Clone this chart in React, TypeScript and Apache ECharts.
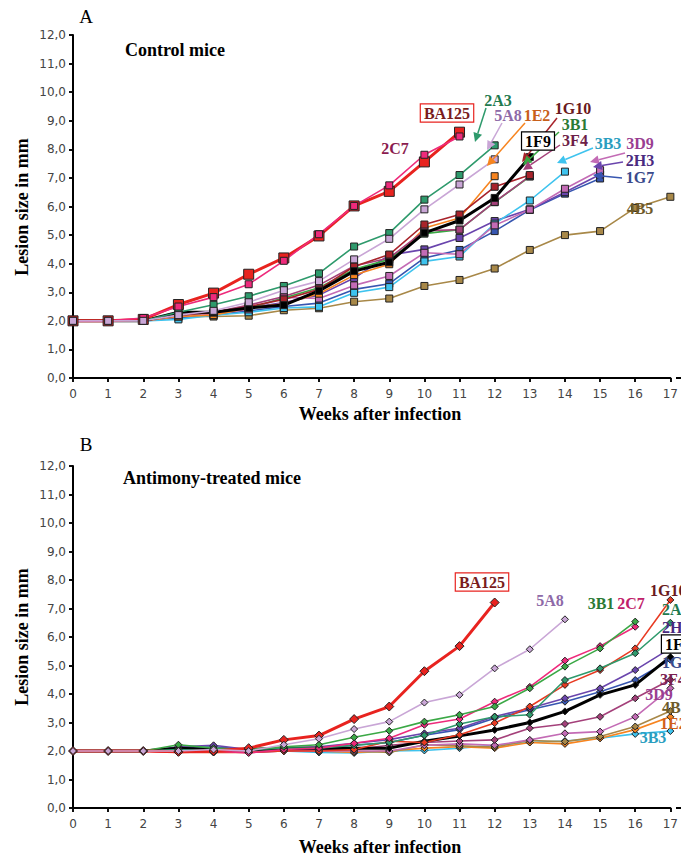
import { useEffect, useRef } from "react";
import * as echarts from "echarts";

// ---------- data ----------
const weekLabels = ["0","1","2","3","4","5","6","7","8","9","10","11","12","13","14","15","16","17"];
const yTickValues = [0, 1, 2, 3, 4, 5, 6, 7, 8, 9, 10, 11, 12];

// Panel A: control mice (lesion size in mm per week)
const controlBA125 = [2.0, 2.0, 2.05, 2.57, 2.97, 3.63, 4.2, 4.97, 6.02, 6.53, 7.56, 8.6];
const control2C7 = [2.0, 2.0, 2.1, 2.5, 2.83, 3.28, 4.1, 5.03, 6.02, 6.74, 7.81, 8.45];
const control2A3 = [2.0, 2.0, 2.0, 2.3, 2.56, 2.86, 3.22, 3.66, 4.6, 5.07, 6.24, 7.1, 8.14];
const control1E2 = [2.0, 2.0, 2.0, 2.15, 2.2, 2.45, 2.6, 2.95, 3.6, 3.98, 5.25, 5.6, 7.06];
const control1G10 = [2.0, 2.0, 2.0, 2.2, 2.3, 2.5, 2.75, 3.1, 3.9, 4.32, 5.37, 5.72, 6.69, 7.1];
const control3B1 = [2.0, 2.0, 2.0, 2.2, 2.3, 2.45, 2.8, 3.16, 3.8, 4.15, 5.05, 5.19, 6.15, 7.05];
const control3F4 = [2.0, 2.0, 2.0, 2.2, 2.3, 2.55, 2.85, 3.25, 3.92, 4.2, 5.15, 5.19, 6.16, 7.06];
const control1F9 = [2.0, 2.0, 2.0, 2.3, 2.3, 2.45, 2.55, 3.05, 3.74, 4.05, 5.08, 5.51, 6.3, 7.73];
const control3B3 = [2.0, 2.0, 2.0, 2.05, 2.2, 2.3, 2.45, 2.49, 2.98, 3.18, 4.08, 4.25, 5.4, 6.21, 7.22];
const control3D9 = [2.0, 2.0, 2.0, 2.15, 2.25, 2.4, 2.82, 2.78, 3.24, 3.57, 4.38, 4.33, 5.34, 5.89, 6.62, 7.27];
const control2H3 = [2.0, 2.0, 2.0, 2.2, 2.3, 2.45, 2.64, 2.9, 3.5, 4.3, 4.5, 4.9, 5.49, 5.9, 6.5, 7.12];
const control1G7 = [2.0, 2.0, 2.0, 2.1, 2.2, 2.35, 2.5, 2.62, 3.1, 3.3, 4.2, 4.48, 5.14, 5.88, 6.45, 6.98];
const control4B5 = [2.0, 2.0, 2.0, 2.15, 2.15, 2.18, 2.37, 2.44, 2.67, 2.78, 3.22, 3.43, 3.83, 4.48, 5.0, 5.14, 5.95, 6.34];
const control5A8 = [2.0, 2.0, 2.0, 2.2, 2.35, 2.65, 3.07, 3.39, 4.15, 4.87, 5.9, 6.77, 7.65];

// Panel B: antimony-treated mice
const treatedBA125 = [2.0, 2.0, 2.0, 1.97, 2.0, 2.1, 2.39, 2.54, 3.12, 3.56, 4.8, 5.68, 7.21];
const treated3B1 = [2.0, 2.0, 2.0, 2.22, 2.1, 2.05, 2.15, 2.22, 2.48, 2.71, 3.03, 3.27, 3.56, 4.2, 4.96, 5.6, 6.54];
const treated2C7 = [2.0, 2.0, 2.0, 1.95, 2.0, 1.93, 2.05, 2.1, 2.27, 2.45, 2.92, 3.12, 3.73, 4.25, 5.17, 5.68, 6.36];
const treated2A3 = [2.0, 2.0, 2.0, 2.05, 2.0, 2.05, 2.1, 2.1, 2.2, 2.3, 2.55, 2.95, 3.2, 3.27, 4.49, 4.9, 5.43, 6.5];
const treated1G10 = [2.0, 2.0, 2.0, 1.95, 1.95, 1.95, 2.0, 2.0, 2.05, 2.34, 2.3, 2.57, 2.98, 3.56, 4.32, 4.84, 5.6, 7.3];
const treated2H3 = [2.0, 2.0, 2.0, 2.15, 2.2, 2.05, 2.1, 2.15, 2.27, 2.4, 2.62, 2.8, 3.21, 3.5, 3.85, 4.2, 4.84, 5.6];
const treated1G7 = [2.0, 2.0, 2.0, 2.1, 2.15, 2.05, 2.05, 2.1, 2.2, 2.3, 2.55, 2.75, 3.15, 3.45, 3.73, 4.08, 4.49, 5.2];
const treated1F9 = [2.0, 2.0, 2.0, 2.1, 2.05, 2.05, 2.1, 2.1, 2.1, 2.1, 2.34, 2.53, 2.74, 3.0, 3.39, 3.97, 4.32, 5.3];
const treated3F4 = [2.0, 2.0, 2.0, 2.0, 2.0, 1.95, 2.0, 2.05, 2.05, 2.2, 2.3, 2.35, 2.39, 2.8, 2.95, 3.2, 3.85, 4.5];
const treated3D9 = [2.0, 2.0, 2.0, 2.0, 2.0, 1.95, 2.0, 2.0, 2.0, 2.0, 2.2, 2.25, 2.2, 2.39, 2.62, 2.68, 3.2, 4.2];
const treated4B5 = [2.0, 2.0, 2.0, 2.0, 1.95, 2.0, 2.1, 2.05, 2.0, 1.95, 2.22, 2.18, 2.14, 2.37, 2.33, 2.51, 2.86, 3.4];
const treated1E2 = [2.0, 2.0, 2.0, 2.0, 2.0, 2.0, 2.05, 2.0, 1.95, 2.0, 2.1, 2.15, 2.1, 2.3, 2.25, 2.45, 2.75, 3.2];
const treated3B3 = [2.0, 2.0, 2.0, 2.0, 2.0, 2.0, 2.0, 1.95, 1.93, 2.0, 2.02, 2.1, 2.2, 2.3, 2.35, 2.45, 2.6, 2.7];
const treated5A8 = [2.0, 2.0, 2.0, 2.0, 2.05, 2.0, 2.22, 2.43, 2.77, 3.03, 3.7, 3.97, 4.9, 5.57, 6.62];

// ---------- styles ----------
const SERIF = "'Liberation Serif', 'DejaVu Serif', serif";
const SANS = "'DejaVu Sans', Verdana, sans-serif";

const C = {
  BA125: "#e8231f",
  "2C7": "#ee2a7b",
  "2A3": "#2e9a6c",
  "5A8": "#c9a6d6",
  "1E2": "#f7841f",
  "1G10": "#a8232b",
  "1G10b": "#e83a22",
  "3B1": "#3aa845",
  "1F9": "#000000",
  "3F4": "#a4407a",
  "3B3": "#3ec3ee",
  "3D9": "#c36bb5",
  "2H3": "#6a45ad",
  "1G7": "#3756b0",
  "4B5": "#a88848",
};

type SDef = { name: string; data: number[]; color: string; thick?: boolean };

const controlSeries: SDef[] = [
  { name: "4B5", data: control4B5, color: C["4B5"] },
  { name: "1G7", data: control1G7, color: C["1G7"] },
  { name: "2H3", data: control2H3, color: C["2H3"] },
  { name: "3B3", data: control3B3, color: C["3B3"] },
  { name: "3D9", data: control3D9, color: C["3D9"] },
  { name: "1E2", data: control1E2, color: C["1E2"] },
  { name: "3B1", data: control3B1, color: C["3B1"] },
  { name: "3F4", data: control3F4, color: C["3F4"] },
  { name: "1G10", data: control1G10, color: C["1G10"] },
  { name: "1F9", data: control1F9, color: C["1F9"], thick: true },
  { name: "2A3", data: control2A3, color: C["2A3"] },
  { name: "BA125", data: controlBA125, color: C.BA125, thick: true },
  { name: "2C7", data: control2C7, color: C["2C7"] },
  { name: "5A8", data: control5A8, color: C["5A8"] },
];

const treatedSeries: SDef[] = [
  { name: "3B3", data: treated3B3, color: C["3B3"] },
  { name: "1E2", data: treated1E2, color: C["1E2"] },
  { name: "4B5", data: treated4B5, color: C["4B5"] },
  { name: "3D9", data: treated3D9, color: C["3D9"] },
  { name: "3F4", data: treated3F4, color: C["3F4"] },
  { name: "1G7", data: treated1G7, color: C["1G7"] },
  { name: "2H3", data: treated2H3, color: C["2H3"] },
  { name: "1F9", data: treated1F9, color: C["1F9"], thick: true },
  { name: "1G10", data: treated1G10, color: C["1G10b"] },
  { name: "2A3", data: treated2A3, color: C["2A3"] },
  { name: "2C7", data: treated2C7, color: C["2C7"] },
  { name: "3B1", data: treated3B1, color: C["3B1"] },
  { name: "BA125", data: treatedBA125, color: C.BA125, thick: true },
  { name: "5A8", data: treated5A8, color: C["5A8"] },
];

// annotation labels (pixel positions)
type Lab = { text: string; x: number; y: number; color: string; align?: string; box?: string };
const controlLabels: Lab[] = [
  { text: "BA125", x: 447, y: 113, color: "#7a1c1c", box: C.BA125 },
  { text: "2C7", x: 395, y: 148, color: "#8b1c4f" },
  { text: "2A3", x: 498, y: 100, color: "#1f7a4f" },
  { text: "5A8", x: 508, y: 115, color: "#8e6aa8" },
  { text: "1E2", x: 537, y: 115, color: "#c8601a" },
  { text: "1G10", x: 573, y: 108, color: "#6a1a20" },
  { text: "3B1", x: 575, y: 124, color: "#2a7a35" },
  { text: "1F9", x: 538, y: 141, color: "#000000", box: "#000000" },
  { text: "3F4", x: 575, y: 140, color: "#6e1e48" },
  { text: "3B3", x: 608, y: 143, color: "#2a9ec0" },
  { text: "3D9", x: 640, y: 143, color: "#9a3f92" },
  { text: "2H3", x: 640, y: 160, color: "#4a2a80" },
  { text: "1G7", x: 640, y: 177, color: "#3a4b8c" },
  { text: "4B5", x: 640, y: 208, color: "#6e5a2a" },
];
type Arr = { from: number[]; to: number[]; color: string };
const controlArrows: Arr[] = [
  { from: [486, 108], to: [475, 142], color: C["2A3"] },
  { from: [502, 123], to: [487, 150], color: C["5A8"] },
  { from: [525, 123], to: [487, 166], color: C["1E2"] },
  { from: [557, 118], to: [522, 162], color: C["1G10"] },
  { from: [559, 132], to: [523, 165], color: C["3B1"] },
  { from: [560, 145], to: [523, 170], color: C["3F4"] },
  { from: [593, 148], to: [557, 163], color: C["3B3"] },
  { from: [625, 153], to: [590, 162], color: C["3D9"] },
  { from: [623, 162], to: [593, 167], color: C["2H3"] },
  { from: [622, 178], to: [593, 175], color: C["1G7"] },
];
const treatedLabels: Lab[] = [
  { text: "BA125", x: 482, y: 582, color: "#7a1c1c", box: C.BA125 },
  { text: "5A8", x: 550, y: 600, color: "#8e6aa8" },
  { text: "3B1", x: 601, y: 603, color: "#2a7a35" },
  { text: "2C7", x: 631, y: 603, color: "#c0206a" },
  { text: "1G10", x: 650, y: 590, color: "#6a1a20", align: "left" },
  { text: "2A3", x: 662, y: 609, color: "#1f7a4f", align: "left" },
  { text: "2H3", x: 662, y: 627, color: "#4a2a80", align: "left" },
  { text: "1F9", x: 662, y: 644, color: "#000000", align: "left", box: "#000000" },
  { text: "1G7", x: 662, y: 662, color: "#3a4b8c", align: "left" },
  { text: "3F4", x: 660, y: 679, color: "#7a2050", align: "left" },
  { text: "3D9", x: 659, y: 694, color: "#9a3f92" },
  { text: "4B5", x: 662, y: 707, color: "#6e5a2a", align: "left" },
  { text: "1E2", x: 660, y: 723, color: "#d0601a", align: "left" },
  { text: "3B3", x: 653, y: 737, color: "#2a9ec0" },
];

const tickFmt = (v: number) => v.toFixed(1).replace(".", ",");

function arrowEls(a: Arr) {
  const [x1, y1] = a.from;
  const [x2, y2] = a.to;
  const ang = Math.atan2(y2 - y1, x2 - x1);
  const L = 9, W = 4.5;
  const bx = x2 - L * Math.cos(ang);
  const by = y2 - L * Math.sin(ang);
  const px = Math.sin(ang) * W, py = -Math.cos(ang) * W;
  return [
    { type: "line", shape: { x1, y1, x2: bx, y2: by }, style: { stroke: a.color, lineWidth: 1.5 }, z: 100 },
    { type: "polygon", shape: { points: [[x2, y2], [bx + px, by + py], [bx - px, by - py]] }, style: { fill: a.color }, z: 100 },
  ];
}

function labelEl(l: Lab) {
  const style: any = {
    text: l.text,
    fill: l.color,
    fontFamily: SERIF,
    fontWeight: "bold",
    fontSize: 16,
    align: l.align || "center",
    verticalAlign: "middle",
  };
  if (l.box) {
    style.borderColor = l.box;
    style.borderWidth = 1.2;
    style.backgroundColor = "#ffffff";
    style.padding = [1, 3, 0, 3];
  }
  return { type: "text", x: l.x, y: l.y, style, z: 110 };
}

function titleText(text: string, x: number, y: number, size: number, bold: boolean, rotation = 0) {
  return {
    type: "text",
    x,
    y,
    rotation,
    style: {
      text,
      fill: "#000",
      fontFamily: SERIF,
      fontWeight: bold ? "bold" : "normal",
      fontSize: size,
      align: "center",
      verticalAlign: "middle",
    },
  };
}

function axesFor(gridIndex: number) {
  const axisLine = { show: true, lineStyle: { color: "#000", width: 2 } };
  const xMain = {
    type: "value", gridIndex, min: 0, max: 17, interval: 1,
    axisLine, axisTick: { show: true, length: 4, lineStyle: { color: "#000", width: 1.5 } },
    axisLabel: { show: true, margin: 10, color: "#444", fontFamily: SANS, fontSize: 12, formatter: (v: number) => weekLabels[v] ?? "" },
    splitLine: { show: false },
  };
  const xOver = {
    type: "value", gridIndex, min: 0, max: 17, interval: 1,
    axisLine: { show: false }, axisTick: { show: true, inside: true, length: 4, lineStyle: { color: "#000", width: 1.5 } },
    axisLabel: { show: false }, splitLine: { show: false },
  };
  const yMain = {
    type: "value", gridIndex, min: 0, max: 12, interval: 1,
    axisLine, axisTick: { show: true, length: 4, lineStyle: { color: "#000", width: 1.5 } },
    axisLabel: { show: true, margin: 7, color: "#444", fontFamily: SANS, fontSize: 12, formatter: (v: number) => (yTickValues.includes(v) ? tickFmt(v) : "") },
    splitLine: { show: false },
  };
  const yOver = {
    type: "value", gridIndex, min: 0, max: 12, interval: 1,
    axisLine: { show: false }, axisTick: { show: true, inside: true, length: 4, lineStyle: { color: "#000", width: 1.5 } },
    axisLabel: { show: false }, splitLine: { show: false },
  };
  return { x: [xMain, xOver], y: [yMain, yOver] };
}

function buildSeries(defs: SDef[], axisIndex: number, symbol: string) {
  return defs.map((d) => ({
    type: "line",
    name: d.name,
    xAxisIndex: axisIndex,
    yAxisIndex: axisIndex,
    data: d.data.map((v, i) => [i, v]),
    symbol,
    symbolSize: d.name === "BA125" ? (symbol === "rect" ? 10 : 9) : 7,
    showSymbol: true,
    lineStyle: { color: d.color, width: d.thick ? 3 : 1.6 },
    itemStyle: { color: d.color, borderColor: "#222", borderWidth: 1 },
    emphasis: { disabled: true },
    silent: true,
    clip: true,
  }));
}

export default function App() {
  const ref = useRef<HTMLDivElement>(null);
  useEffect(() => {
    if (!ref.current) return;
    const chart = echarts.init(ref.current, undefined, { renderer: "svg" });
    const a0 = axesFor(0);
    const a1 = axesFor(1);
    const graphic: any[] = [
      titleText("A", 86, 16, 19, false),
      titleText("Control mice", 175, 50, 18, true),
      titleText("Lesion size in mm", 22, 207, 18, true, Math.PI / 2),
      titleText("Weeks after infection", 380, 414, 18, true),
      titleText("B", 86, 444, 19, false),
      titleText("Antimony-treated mice", 212, 478, 18, true),
      titleText("Lesion size in mm", 22, 637, 18, true, Math.PI / 2),
      titleText("Weeks after infection", 380, 847, 18, true),
      // axis-line continuation to the cropped right edge
      { type: "line", shape: { x1: 676, y1: 378, x2: 681, y2: 378 }, style: { stroke: "#000", lineWidth: 2 } },
      { type: "line", shape: { x1: 676, y1: 808, x2: 681, y2: 808 }, style: { stroke: "#000", lineWidth: 2 } },
    ];
    controlArrows.forEach((a) => graphic.push(...arrowEls(a)));
    controlLabels.forEach((l) => graphic.push(labelEl(l)));
    treatedLabels.forEach((l) => graphic.push(labelEl(l)));

    chart.setOption({
      animation: false,
      backgroundColor: "#ffffff",
      grid: [
        { left: 73, top: 35, width: 604, height: 343, containLabel: false },
        { left: 73, top: 466, width: 604, height: 342, containLabel: false },
      ],
      xAxis: [...a0.x, ...a1.x],
      yAxis: [...a0.y, ...a1.y],
      series: [...buildSeries(controlSeries, 0, "rect"), ...buildSeries(treatedSeries, 2, "diamond")],
      graphic,
    });
    return () => chart.dispose();
  }, []);
  return (
    <div
      ref={ref}
      style={{ position: "fixed", left: 0, top: 0, width: 681, height: 857, background: "#fff" }}
    />
  );
}
